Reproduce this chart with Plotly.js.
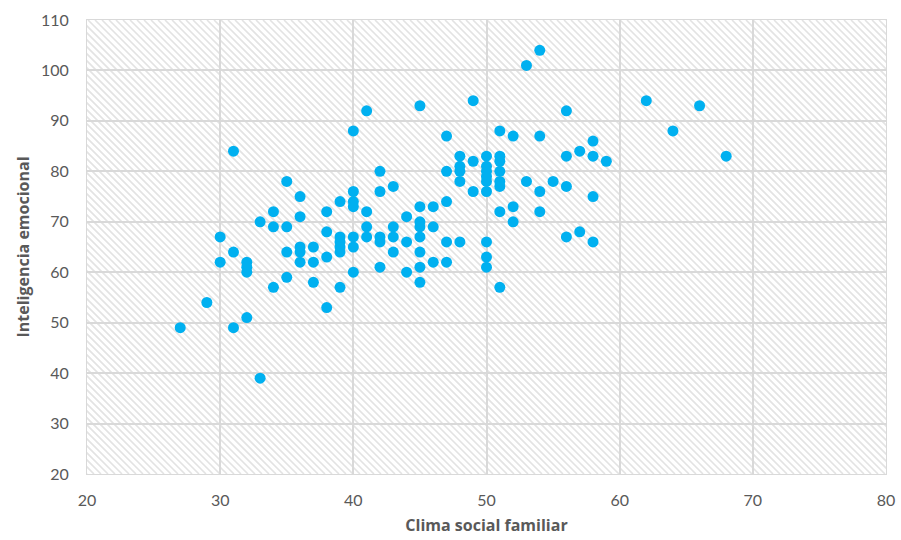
<!DOCTYPE html>
<html>
<head>
<meta charset="utf-8">
<script src="https://cdn.plot.ly/plotly-3.0.1.min.js"></script>
<style>html,body{margin:0;padding:0;background:#fff;}#chart{width:901px;height:540px;}</style>
</head>
<body>
<div id="chart"></div>
<script>
// Clima social familiar (x) and Inteligencia emocional (y)
const climaSocial = [
  27,
  29,
  30, 30,
  31, 31, 31,
  32, 32, 32, 32,
  33, 33,
  34, 34, 34,
  35, 35, 35, 35,
  36, 36, 36, 36, 36,
  37, 37, 37,
  38, 38, 38, 38,
  39, 39, 39, 39, 39, 39,
  40, 40, 40, 40, 40, 40, 40,
  41, 41, 41, 41,
  42, 42, 42, 42, 42,
  43, 43, 43, 43,
  44, 44, 44,
  45, 45, 45, 45, 45, 45, 45, 45,
  46, 46, 46,
  47, 47, 47, 47, 47,
  48, 48, 48, 48, 48,
  49, 49, 49,
  50, 50, 50, 50, 50, 50, 50, 50, 50,
  51, 51, 51, 51, 51, 51, 51, 51,
  52, 52, 52,
  53, 53,
  54, 54, 54, 54,
  55,
  56, 56, 56, 56,
  57, 57,
  58, 58, 58, 58,
  59,
  62,
  64,
  66,
  68
];
const inteligenciaEmocional = [
  49,
  54,
  67, 62,
  84, 64, 49,
  62, 61, 60, 51,
  70, 39,
  72, 69, 57,
  78, 69, 64, 59,
  75, 71, 65, 64, 62,
  65, 62, 58,
  72, 68, 63, 53,
  74, 67, 66, 65, 64, 57,
  88, 76, 74, 73, 67, 65, 60,
  92, 72, 69, 67,
  80, 76, 67, 66, 61,
  77, 69, 67, 64,
  71, 66, 60,
  93, 73, 70, 69, 67, 64, 61, 58,
  73, 69, 62,
  87, 80, 74, 66, 62,
  83, 81, 80, 78, 66,
  94, 82, 76,
  83, 81, 80, 79, 78, 76, 66, 63, 61,
  88, 83, 82, 80, 78, 77, 72, 57,
  87, 73, 70,
  101, 78,
  104, 87, 76, 72,
  78,
  92, 83, 77, 67,
  84, 68,
  86, 83, 75, 66,
  82,
  94,
  88,
  93,
  83
];
const xTickVals = [20, 30, 40, 50, 60, 70, 80];
const yTickVals = [20, 30, 40, 50, 60, 70, 80, 90, 100, 110];
const xTitle = 'Clima social familiar';
const yTitle = 'Inteligencia emocional';

// Hatched plot-area background (Excel pattern fill)
const W = 799, H = 454, S = 7;
let paths = '';
for (let k = -H; k < W + H; k += S) {
  paths += 'M' + k + ',0L' + (k + H) + ',' + H + ' ';
}
const svg = '<svg xmlns="http://www.w3.org/2000/svg" width="' + W + '" height="' + H + '" viewBox="0 0 ' + W + ' ' + H + '">' +
  '<rect width="' + W + '" height="' + H + '" fill="#ffffff"/>' +
  '<path d="' + paths + '" stroke="#e3e3e3" stroke-width="1.6" fill="none"/></svg>';
const hatchSrc = 'data:image/svg+xml;charset=utf-8,' + encodeURIComponent(svg);

const tickFont = {family: 'Lato, "Open Sans", sans-serif', size: 16, color: '#595959'};
const titleFont = {family: '"Open Sans", Lato, sans-serif', size: 16, color: '#595959', weight: 'bold'};

const trace = {
  type: 'scatter',
  mode: 'markers',
  x: climaSocial,
  y: inteligenciaEmocional,
  marker: {color: '#00b0f0', size: 11, line: {width: 0}},
  hoverinfo: 'x+y'
};

const layout = {
  width: 901,
  height: 540,
  margin: {l: 87, r: 15, t: 20, b: 66},
  paper_bgcolor: '#ffffff',
  plot_bgcolor: 'rgba(0,0,0,0)',
  showlegend: false,
  images: [{
    source: hatchSrc,
    xref: 'paper', yref: 'paper',
    x: 0, y: 1, sizex: 1, sizey: 1,
    xanchor: 'left', yanchor: 'top',
    sizing: 'stretch',
    layer: 'below'
  }],
  xaxis: {
    range: [20, 80],
    tickvals: xTickVals,
    ticks: '',
    showgrid: true,
    gridcolor: '#d9d9d9',
    gridwidth: 2,
    zeroline: false,
    showline: true,
    linecolor: '#d9d9d9',
    linewidth: 1,
    mirror: true,
    tickfont: tickFont,
    ticklabelstandoff: 12,
    title: {text: '<b>' + xTitle + '</b>', font: titleFont, standoff: 11}
  },
  yaxis: {
    range: [20, 110],
    tickvals: yTickVals,
    ticks: '',
    showgrid: true,
    gridcolor: '#d9d9d9',
    gridwidth: 2,
    zeroline: false,
    showline: true,
    linecolor: '#d9d9d9',
    linewidth: 1,
    mirror: true,
    tickfont: tickFont,
    ticklabelstandoff: 14,
    title: {text: '<b>' + yTitle + '</b>', font: titleFont, standoff: 7}
  }
};

Plotly.newPlot('chart', [trace], layout, {displayModeBar: false, staticPlot: true});
</script>
</body>
</html>
